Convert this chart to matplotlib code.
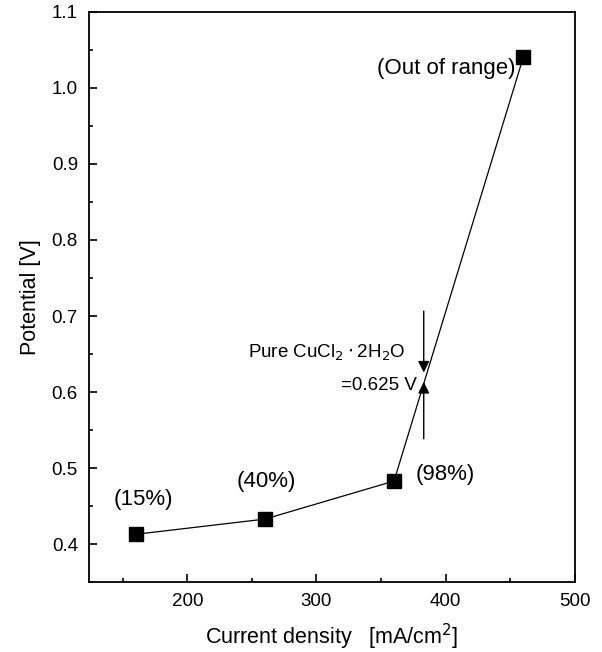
import matplotlib
matplotlib.use("Agg")
import matplotlib.pyplot as plt
from matplotlib.ticker import MultipleLocator

plt.rcParams['font.family'] = ['Liberation Sans', 'DejaVu Sans']

# data
current = [160, 260, 360, 460]              # mA/cm2
potential = [0.413, 0.433, 0.483, 1.04]     # V
labels = ['(15%)', '(40%)', '(98%)', '(Out of range)']
pure_x = 383
pure_v = 0.625

fig = plt.figure(figsize=(6.02, 6.52), dpi=100)
ax = fig.add_axes([0.148, 0.107, 0.807, 0.875])

ax.plot(current, potential, 'k-', lw=0.9)
ax.plot(current, potential, 'ks', ms=9.5)

# point labels
ax.text(current[0] + 6, potential[0] + 0.046, labels[0], fontsize=16, ha='center', va='center')
ax.text(current[1] + 1, potential[1] + 0.05, labels[1], fontsize=16, ha='center', va='center')
ax.text(current[2] + 40, potential[2] + 0.008, labels[2], fontsize=16, ha='center', va='center')
ax.text(current[3] - 6, potential[3] - 0.015, labels[3], fontsize=16, ha='right', va='center')

# arrows pointing at the pure CuCl2.2H2O potential
ax.annotate('', xy=(pure_x, 0.622), xytext=(pure_x, 0.71),
            arrowprops=dict(arrowstyle='-|>', color='k', lw=1.0, mutation_scale=17))
ax.annotate('', xy=(pure_x, 0.617), xytext=(pure_x, 0.535),
            arrowprops=dict(arrowstyle='-|>', color='k', lw=1.0, mutation_scale=17))
ax.text(pure_x - 14, 0.652, r'Pure CuCl$_2\cdot$2H$_2$O', fontsize=13.5, ha='right', va='center')
ax.text(pure_x - 5, 0.609, '=0.625 V', fontsize=13.5, ha='right', va='center')

ax.set_xlim(124, 500)
ax.set_ylim(0.35, 1.1)
ax.xaxis.set_major_locator(MultipleLocator(100))
ax.xaxis.set_minor_locator(MultipleLocator(50))
ax.yaxis.set_major_locator(MultipleLocator(0.1))
ax.yaxis.set_minor_locator(MultipleLocator(0.05))
ax.tick_params(which='both', direction='in', top=False, right=False, labelsize=13.5, width=1.2)
ax.tick_params(which='major', length=6)
ax.tick_params(which='minor', length=3)
ax.tick_params(axis='x', pad=8)
ax.tick_params(axis='y', pad=8)
for s in ax.spines.values():
    s.set_linewidth(1.3)

ax.set_xlabel('Current density   [mA/cm$^2$]', fontsize=15.5, labelpad=8)
ax.set_ylabel('Potential [V]', fontsize=15.5, labelpad=8)

fig.savefig('out.png', dpi=100)
